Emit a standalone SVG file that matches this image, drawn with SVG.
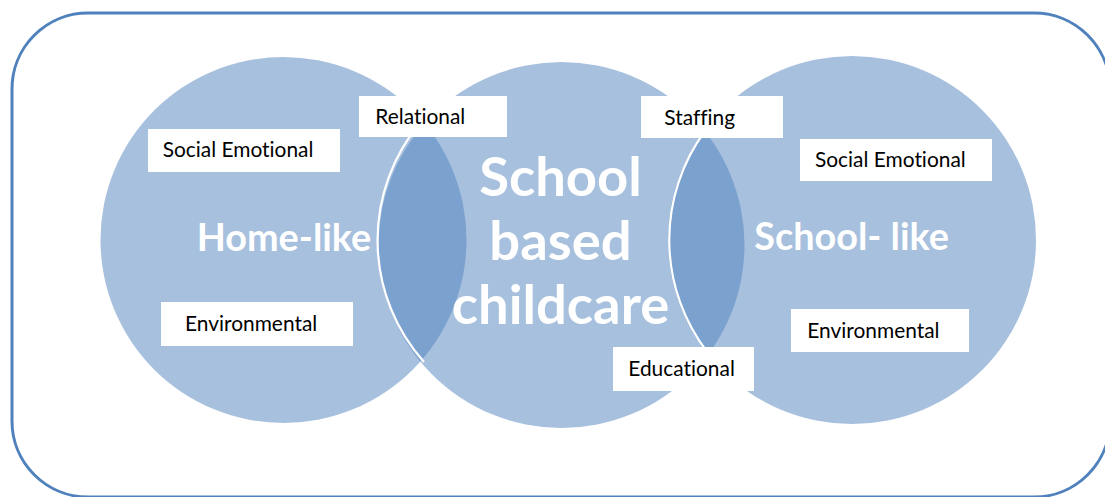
<svg xmlns="http://www.w3.org/2000/svg" width="1105" height="497" viewBox="0 0 1105 497">
<style>
.frame{fill:#FFFFFF;stroke:#4F81BD;stroke-width:3}
.circ{fill:#4F81BD;fill-opacity:0.5}
.edge{fill:none;stroke:#FFFFFF;stroke-width:2.2}
.box{fill:#FFFFFF}
.lbl{font-family:Lato,"Liberation Sans",sans-serif;font-size:20.9px;fill:#000000;font-variant-ligatures:none}
.big{font-family:Lato,"Liberation Sans",sans-serif;font-weight:bold;fill:#FFFFFF}
</style>
<rect class="frame" x="12" y="13" width="1098" height="484" rx="76" ry="76"/>
<g id="circle-home">
<circle class="circ" cx="283.5" cy="240" r="183"/>
<text class="big" x="196.7" y="251" font-size="37.8">Home-like</text>
</g>
<g id="circle-center">
<circle class="circ" cx="561.5" cy="245" r="183"/>
<path class="edge" d="M420,123 A183,183 0 0 0 424,362"/>
</g>
<g id="circle-school">
<circle class="circ" cx="852" cy="240" r="184"/>
<path class="edge" d="M705,131 A184,184 0 0 0 708,353"/>
<text class="big" x="754.3" y="249.5" font-size="37.8">School- like</text>
</g>
<g id="center-title">
<text class="big" x="560.5" text-anchor="middle" font-size="54.4"><tspan x="560.5" y="196">School</tspan><tspan x="560.5" y="260">based</tspan><tspan x="560.5" y="324">childcare</tspan></text>
</g>
<g id="label-social-left">
<rect class="box" x="148" y="129" width="192" height="43"/>
<text class="lbl" x="162.7" y="157">Social Emotional</text>
</g>
<g id="label-relational">
<rect class="box" x="359" y="96" width="148" height="41"/>
<text class="lbl" x="375.3" y="124">Relational</text>
</g>
<g id="label-staffing">
<rect class="box" x="641" y="96" width="142" height="42"/>
<text class="lbl" x="664.3" y="124.5">Staffing</text>
</g>
<g id="label-social-right">
<rect class="box" x="800" y="139" width="192" height="42"/>
<text class="lbl" x="815" y="167">Social Emotional</text>
</g>
<g id="label-env-left">
<rect class="box" x="161" y="302" width="192" height="44"/>
<text class="lbl" x="185" y="331">Environmental</text>
</g>
<g id="label-env-right">
<rect class="box" x="791" y="309" width="178" height="43"/>
<text class="lbl" x="807.3" y="337.5">Environmental</text>
</g>
<g id="label-educational">
<rect class="box" x="613" y="347" width="141" height="44"/>
<text class="lbl" x="628.3" y="376">Educational</text>
</g>
<g id="connectors"/>
</svg>
